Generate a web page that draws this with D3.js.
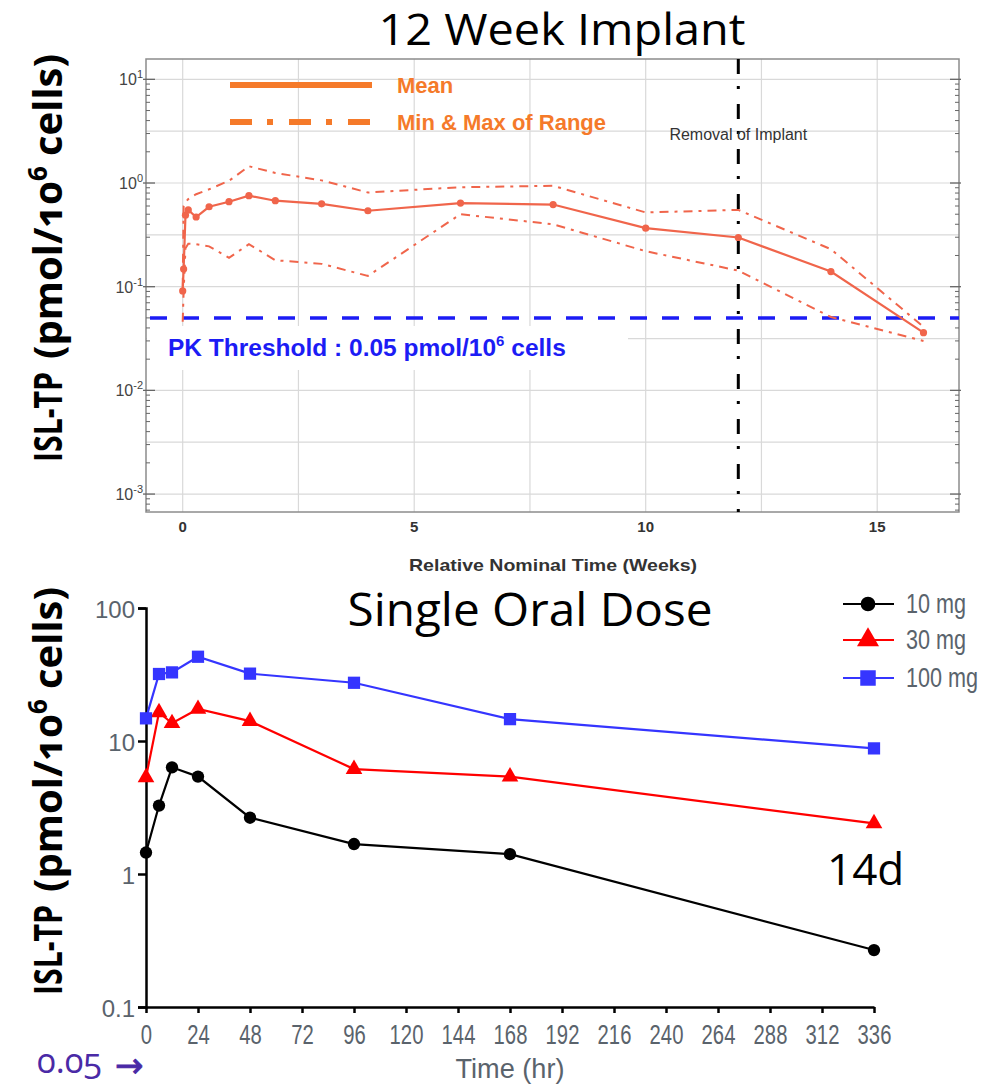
<!DOCTYPE html>
<html>
<head>
<meta charset="utf-8">
<script src="https://cdn.jsdelivr.net/npm/d3@7"></script>
<style>
  html, body { margin: 0; padding: 0; background: #fff; }
  svg { display: block; }
</style>
</head>
<body>
<svg id="chart" width="999" height="1084"></svg>
<script>
// ---------- Data: 12 Week Implant ----------
const implantWeeks = [0, 0.02, 0.06, 0.12, 0.29, 0.57, 1, 1.43, 2, 3, 4, 6, 8, 10, 12, 14, 16];
const implantMean  = [0.091, 0.148, 0.49, 0.55, 0.47, 0.59, 0.66, 0.755, 0.675, 0.63, 0.54, 0.64, 0.62, 0.367, 0.298, 0.14, 0.036];
const implantMax   = [0.10, 0.60, 0.65, 0.70, 0.78, 0.87, 1.05, 1.45, 1.25, 1.06, 0.81, 0.91, 0.94, 0.52, 0.55, 0.23, 0.041];
const implantMin   = [0.046, 0.09, 0.235, 0.26, 0.257, 0.245, 0.19, 0.257, 0.18, 0.166, 0.127, 0.50, 0.40, 0.22, 0.143, 0.051, 0.030];
const pkThreshold  = 0.05;
const removalWeek  = 12;
const implantXTicks = [0, 5, 10, 15];
const implantXGrid  = [0, 2.5, 5, 7.5, 10, 12.5, 15];
const implantYExp   = [1, 0, -1, -2, -3];

// ---------- Data: Single Oral Dose ----------
const oralHours = [0, 6, 12, 24, 48, 96, 168, 336];
const dose10  = [1.45, 3.27, 6.34, 5.4, 2.65, 1.68, 1.41, 0.268];
const dose30  = [5.33, 16.4, 13.6, 17.4, 14.1, 6.15, 5.4, 2.4];
const dose100 = [14.8, 31.9, 32.8, 43.0, 32.1, 27.4, 14.6, 8.8];
const oralSeriesNames = ["10 mg", "30 mg", "100 mg"];
const oralXTicks = [0, 24, 48, 72, 96, 120, 144, 168, 192, 216, 240, 264, 288, 312, 336];
const oralYTicks = [100, 10, 1, 0.1];

const svg = d3.select("#chart");
const sans = "'Liberation Sans', Arial, sans-serif";
const titleFont = "'Open Sans', 'Noto Sans', sans-serif";
const zip = (xs, ys) => xs.map((x, i) => [x, ys[i]]);

// horizontally condense text (to mimic narrow fonts) or fit to a width
function squeeze(sel, ratio) {
  sel.each(function () {
    const L = this.getComputedTextLength();
    this.setAttribute("textLength", L * ratio);
    this.setAttribute("lengthAdjust", "spacingAndGlyphs");
  });
}
function fitWidth(sel, w) {
  sel.attr("textLength", w).attr("lengthAdjust", "spacingAndGlyphs");
}

// ================= TOP CHART =================
const tL = 146, tR = 959, tT = 59, tB = 512;
const xT = d3.scaleLinear().domain([(tL - 182.7) / 46.3, (tR - 182.7) / 46.3]).range([tL, tR]);
const yT = d3.scaleLog().domain([Math.pow(10, -3.173), Math.pow(10, 1.196)]).range([tB, tT]);

const topG = svg.append("g");

// title
fitWidth(topG.append("text").attr("x", 562).attr("y", 45).attr("text-anchor", "middle")
  .attr("font-family", titleFont).attr("font-size", 43).attr("fill", "#000").text("12 Week Implant"), 367);

// gridlines
const gridG = topG.append("g").attr("stroke", "#d9d9d9").attr("stroke-width", 1.2);
const halfDecades = d3.range(-6, 3).map(k => Math.pow(10, k / 2)).filter(v => yT(v) > tT + 1 && yT(v) < tB - 1);
gridG.selectAll("line.h").data(halfDecades).join("line").attr("class", "h")
  .attr("x1", tL).attr("x2", tR).attr("y1", d => yT(d)).attr("y2", d => yT(d));
gridG.selectAll("line.v").data(implantXGrid).join("line").attr("class", "v")
  .attr("x1", d => xT(d)).attr("x2", d => xT(d)).attr("y1", tT).attr("y2", tB);

// white box behind PK label
topG.append("rect").attr("x", tL + 1).attr("y", 326).attr("width", 627 - tL).attr("height", 44).attr("fill", "#fff");

// frame
topG.append("rect").attr("x", tL).attr("y", tT).attr("width", tR - tL).attr("height", tB - tT)
  .attr("fill", "none").attr("stroke", "#8c8c8c").attr("stroke-width", 1.5);

// ticks left/right (inward)
const minorVals = [];
for (let e = -4; e <= 1; e++) for (let m = 2; m <= 9; m++) {
  const v = m * Math.pow(10, e);
  if (yT(v) > tT && yT(v) < tB) minorVals.push(v);
}
const majorVals = implantYExp.map(e => Math.pow(10, e));
const tickG = topG.append("g").attr("stroke", "#666").attr("stroke-width", 1);
tickG.selectAll("line.ml").data(minorVals).join("line").attr("class", "ml")
  .attr("x1", tL).attr("x2", tL + 4).attr("y1", d => yT(d)).attr("y2", d => yT(d));
tickG.selectAll("line.mr").data(minorVals).join("line").attr("class", "mr")
  .attr("x1", tR).attr("x2", tR - 4).attr("y1", d => yT(d)).attr("y2", d => yT(d));
tickG.selectAll("line.Ml").data(majorVals).join("line").attr("class", "Ml")
  .attr("x1", tL - 3).attr("x2", tL + 9).attr("y1", d => yT(d)).attr("y2", d => yT(d)).attr("stroke-width", 1.3);
tickG.selectAll("line.Mr").data(majorVals).join("line").attr("class", "Mr")
  .attr("x1", tR + 2).attr("x2", tR - 9).attr("y1", d => yT(d)).attr("y2", d => yT(d)).attr("stroke-width", 1.3);

// y tick labels 10^n
const yLab = topG.selectAll("text.ylab").data(implantYExp).join("text").attr("class", "ylab")
  .attr("x", 143).attr("y", d => yT(Math.pow(10, d)) + 6).attr("text-anchor", "end")
  .attr("font-family", sans).attr("font-size", 16).attr("fill", "#444");
yLab.append("tspan").text("10");
yLab.append("tspan").attr("dy", -7).attr("font-size", 11).text(d => String(d));

// x tick labels
topG.selectAll("text.xlab").data(implantXTicks).join("text").attr("class", "xlab")
  .attr("x", d => xT(d)).attr("y", 532).attr("text-anchor", "middle")
  .attr("font-family", sans).attr("font-weight", "bold").attr("font-size", 15).attr("fill", "#333")
  .text(d => d);

fitWidth(topG.append("text").attr("x", 553).attr("y", 571).attr("text-anchor", "middle")
  .attr("font-family", sans).attr("font-weight", "bold").attr("font-size", 17).attr("fill", "#333")
  .text("Relative Nominal Time (Weeks)"), 288);

// PK threshold line
topG.append("line").attr("x1", tL + 4).attr("x2", tR).attr("y1", yT(pkThreshold)).attr("y2", yT(pkThreshold))
  .attr("stroke", "#1c1cf5").attr("stroke-width", 3.5).attr("stroke-dasharray", "17,15");
const pk = topG.append("text").attr("x", 168).attr("y", 356)
  .attr("font-family", sans).attr("font-weight", "bold").attr("font-size", 24.5).attr("fill", "#1c1cf5");
pk.append("tspan").text("PK Threshold : 0.05 pmol/10");
pk.append("tspan").attr("dy", -10).attr("font-size", 15).text("6");
pk.append("tspan").attr("dy", 10).text(" cells");

// removal line
topG.append("line").attr("x1", xT(removalWeek)).attr("x2", xT(removalWeek)).attr("y1", tT).attr("y2", tB)
  .attr("stroke", "#000").attr("stroke-width", 3).attr("stroke-dasharray", "15,12,3,15");
topG.append("text").attr("x", xT(removalWeek)).attr("y", 140).attr("text-anchor", "middle")
  .attr("font-family", sans).attr("font-size", 16).attr("fill", "#333").text("Removal  of Implant");

// data lines
const dataColor = "#f0654b";
const lineT = d3.line().x(d => xT(d[0])).y(d => yT(d[1]));
topG.append("path").attr("d", lineT(zip(implantWeeks, implantMax))).attr("fill", "none")
  .attr("stroke", dataColor).attr("stroke-width", 2).attr("stroke-dasharray", "9,6,3,6");
topG.append("path").attr("d", lineT(zip(implantWeeks, implantMin))).attr("fill", "none")
  .attr("stroke", dataColor).attr("stroke-width", 2).attr("stroke-dasharray", "9,6,3,6");
topG.append("path").attr("d", lineT(zip(implantWeeks, implantMean))).attr("fill", "none")
  .attr("stroke", dataColor).attr("stroke-width", 2.2);
topG.selectAll("circle.mean").data(zip(implantWeeks, implantMean)).join("circle").attr("class", "mean")
  .attr("cx", d => xT(d[0])).attr("cy", d => yT(d[1])).attr("r", 3.6).attr("fill", dataColor);

// legend
const legColor = "#f57a2a";
topG.append("line").attr("x1", 230).attr("x2", 372).attr("y1", 85).attr("y2", 85)
  .attr("stroke", legColor).attr("stroke-width", 6);
topG.append("line").attr("x1", 230).attr("x2", 372).attr("y1", 122).attr("y2", 122)
  .attr("stroke", legColor).attr("stroke-width", 6).attr("stroke-dasharray", "22,15,6,16");
topG.append("text").attr("x", 397).attr("y", 93).attr("font-family", sans).attr("font-weight", "bold")
  .attr("font-size", 22).attr("fill", legColor).text("Mean");
topG.append("text").attr("x", 397).attr("y", 130).attr("font-family", sans).attr("font-weight", "bold")
  .attr("font-size", 22).attr("fill", legColor).text("Min & Max of Range");

// y-axis labels
function yAxisLabel(bottomY) {
  const g = svg.append("g").attr("transform", `translate(62,${bottomY}) rotate(-90)`);
  const common = t => t.attr("font-family", titleFont).attr("font-weight", "bold")
    .attr("font-size", 40).attr("fill", "#000");
  fitWidth(common(g.append("text").attr("x", 0).attr("y", 0)).text("ISL-TP"), 90);
  const t = common(g.append("text").attr("x", 103).attr("y", 0)).style("font-variant-numeric", "oldstyle-nums");
  t.append("tspan").text("(pmol/10");
  t.append("tspan").attr("dy", -15).attr("font-size", 26).text("6");
  t.append("tspan").attr("dy", 15).text(" cells)");
  fitWidth(t, 305);
}
yAxisLabel(462);
yAxisLabel(995);

// ================= BOTTOM CHART =================
const bL = 146, bR = 874, bT = 608, bB = 1007;
const xB = d3.scaleLinear().domain([0, 336]).range([bL, bR]);
const yB = d3.scaleLog().domain([0.1, 100]).range([bB, bT]);
const botG = svg.append("g");

fitWidth(botG.append("text").attr("x", 530).attr("y", 626).attr("text-anchor", "middle")
  .attr("font-family", titleFont).attr("font-size", 45).attr("fill", "#000").text("Single Oral Dose"), 365);

// axes
const yAxis = d3.axisLeft(yB).tickValues(oralYTicks).tickSize(8).tickFormat(d => String(d));
const yg = botG.append("g").attr("transform", `translate(${bL},0)`).call(yAxis);
yg.select(".domain").attr("stroke", "#000").attr("stroke-width", 2.5);
yg.selectAll(".tick line").attr("stroke", "#000").attr("stroke-width", 2.5);
yg.selectAll(".tick text").attr("font-family", sans).attr("font-size", 24).attr("fill", "#5a636c")
  .attr("x", -11).attr("dy", "0.62em").attr("y", -5);

const xAxis = d3.axisBottom(xB).tickValues(oralXTicks).tickSize(6).tickSizeOuter(0);
const xg = botG.append("g").attr("transform", `translate(0,${bB})`).call(xAxis);
xg.select(".domain").attr("stroke", "#000").attr("stroke-width", 2.5);
xg.selectAll(".tick line").attr("stroke", "#000").attr("stroke-width", 2.5);
xg.selectAll(".tick text").attr("font-family", sans).attr("font-size", 27).attr("fill", "#5a636c")
  .attr("y", 18);
squeeze(xg.selectAll(".tick text"), 0.75);

fitWidth(botG.append("text").attr("x", 510).attr("y", 1078).attr("text-anchor", "middle")
  .attr("font-family", sans).attr("font-size", 28).attr("fill", "#5a636c").text("Time (hr)"), 109);

// series
const series = [
  { name: oralSeriesNames[0], vals: dose10, color: "#000000", sym: d3.symbolCircle, size: 120, legSize: 170 },
  { name: oralSeriesNames[1], vals: dose30, color: "#ff0000", sym: d3.symbolTriangle, size: 120, legSize: 210 },
  { name: oralSeriesNames[2], vals: dose100, color: "#3535ff", sym: d3.symbolSquare, size: 150, legSize: 240 }
];
const lineB = d3.line().x(d => xB(d[0])).y(d => yB(d[1]));
series.forEach(s => {
  const pts = zip(oralHours, s.vals);
  botG.append("path").attr("d", lineB(pts)).attr("fill", "none").attr("stroke", s.color).attr("stroke-width", 2.2);
  botG.append("g").selectAll("path").data(pts).join("path")
    .attr("d", d3.symbol().type(s.sym).size(s.size))
    .attr("transform", d => `translate(${xB(d[0])},${yB(d[1])})`)
    .attr("fill", s.color);
});

// legend
const legY = [604, 640, 678];
series.forEach((s, i) => {
  botG.append("line").attr("x1", 843).attr("x2", 894).attr("y1", legY[i]).attr("y2", legY[i])
    .attr("stroke", s.color).attr("stroke-width", 2.2);
  botG.append("path").attr("d", d3.symbol().type(s.sym).size(s.legSize))
    .attr("transform", `translate(868,${legY[i]})`).attr("fill", s.color);
  squeeze(botG.append("text").attr("x", 906).attr("y", legY[i] + 9).attr("font-family", sans)
    .attr("font-size", 27).attr("fill", "#5a636c").text(s.name), 0.8);
});

botG.append("text").attr("x", 827).attr("y", 885).attr("font-family", titleFont)
  .attr("font-size", 44).attr("fill", "#000").text("14d");

fitWidth(botG.append("text").attr("x", 37).attr("y", 1073).attr("font-family", titleFont)
  .attr("font-size", 34).attr("fill", "#4a2aa6").style("font-variant-numeric", "oldstyle-nums")
  .text("0.05"), 65);
botG.append("text").attr("x", 115).attr("y", 1077).attr("font-family", "'DejaVu Sans', sans-serif")
  .attr("font-size", 34).attr("fill", "#4a2aa6").attr("stroke", "#4a2aa6").attr("stroke-width", 0.8)
  .text("\u2192");
</script>
</body>
</html>
